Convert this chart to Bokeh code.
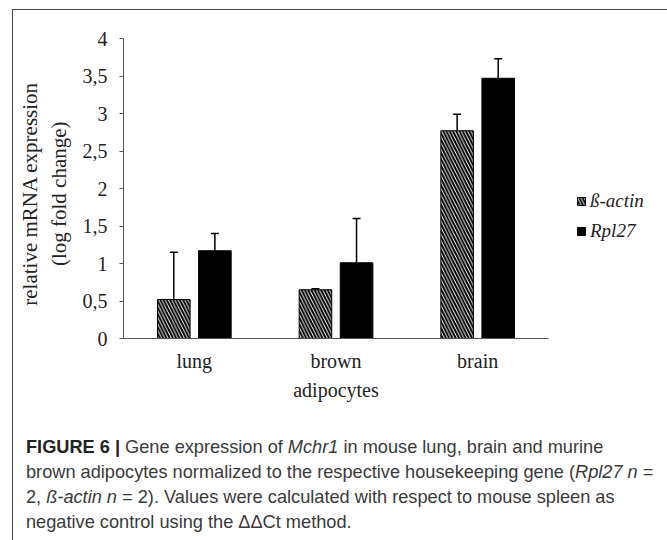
from bokeh.plotting import figure
from bokeh.models import (ColumnDataSource, FactorRange, Range1d, Whisker, TeeHead,
                          Legend, LegendItem, Div, FixedTicker, CategoricalAxis,
                          CustomJSTickFormatter)
from bokeh.layouts import column
from bokeh.transform import dodge
from bokeh.embed import file_html
from bokeh.resources import INLINE

# ---- data ----
categories = ["lung", "brown adipocytes", "brain"]
category_line1 = ["lung", "brown", "brain"]
category_line2 = ["", "adipocytes", ""]
beta_actin = [0.52, 0.65, 2.77]
beta_actin_upper = [1.15, 0.665, 2.99]
rpl27 = [1.17, 1.01, 3.47]
rpl27_upper = [1.40, 1.60, 3.73]
series_labels = ["ß-actin", "Rpl27"]
y_ticks = [0, 0.5, 1, 1.5, 2, 2.5, 3, 3.5, 4]
y_tick_labels = ["0", "0,5", "1", "1,5", "2", "2,5", "3", "3,5", "4"]

src = ColumnDataSource(dict(cat=categories, beta=beta_actin, beta_up=beta_actin_upper,
                            rpl=rpl27, rpl_up=rpl27_upper))

p = figure(x_range=FactorRange(*categories, range_padding=0), y_range=Range1d(0, 4),
           frame_width=425, frame_height=300,
           min_border_left=110, min_border_top=28, min_border_right=113, min_border_bottom=72,
           output_backend="svg", toolbar_location=None)

OFF = 0.145
BW = 0.23
r1 = p.vbar(x=dodge('cat', -OFF, range=p.x_range), top='beta', width=BW, source=src,
            fill_color="white", line_color="black", line_width=1,
            hatch_pattern="\\", hatch_color="black", hatch_scale=6.5, hatch_weight=2)
r2 = p.vbar(x=dodge('cat', OFF, range=p.x_range), top='rpl', width=BW, source=src,
            fill_color="black", line_color="black", line_width=1)

for key, lo, up in ((-OFF, 'beta', 'beta_up'), (OFF, 'rpl', 'rpl_up')):
    w = Whisker(base=dodge('cat', key, range=p.x_range), lower=lo, upper=up, source=src,
                line_color="black", line_width=1.5,
                upper_head=TeeHead(size=8, line_width=1.5, line_color="black"),
                lower_head=None)
    p.add_layout(w)

p.xgrid.visible = False
p.ygrid.visible = False
p.outline_line_color = None
p.background_fill_color = "white"
p.border_fill_color = "white"

ya = p.yaxis[0]
ya.ticker = FixedTicker(ticks=y_ticks)
ya.major_label_overrides = {t: l for t, l in zip(y_ticks, y_tick_labels)}
ya.minor_tick_line_color = None
ya.major_tick_in = 0
ya.major_tick_out = 4
ya.axis_line_color = "#555555"
ya.major_tick_line_color = "#555555"
ya.major_label_text_font = "Liberation Serif"
ya.major_label_text_font_size = "20px"
ya.major_label_text_color = "#222222"
ya.major_label_standoff = 12
ya.axis_label = "relative  mRNA  expression\n(log  fold  change)"
ya.axis_label_text_font = "Liberation Serif"
ya.axis_label_text_font_style = "normal"
ya.axis_label_text_font_size = "21px"
ya.axis_label_text_color = "#222222"
ya.axis_label_standoff = 9

LABEL_CODE = "const i = cats.indexOf(tick); return i >= 0 ? labels[i] : tick;"

xa = p.xaxis[0]
xa.major_tick_line_color = None
xa.major_tick_out = 0
xa.major_tick_in = 0
xa.minor_tick_line_color = None
xa.axis_line_color = "#555555"
xa.formatter = CustomJSTickFormatter(args=dict(cats=categories, labels=category_line1),
                                     code=LABEL_CODE)
xa.major_label_text_font = "Liberation Serif"
xa.major_label_text_font_size = "20px"
xa.major_label_text_color = "#222222"
xa.major_label_standoff = 11

xa2 = CategoricalAxis(axis_line_color=None, major_tick_line_color=None,
                      minor_tick_line_color=None, major_tick_out=0, major_tick_in=0,
                      formatter=CustomJSTickFormatter(args=dict(cats=categories, labels=category_line2),
                                                      code=LABEL_CODE),
                      major_label_text_font="Liberation Serif",
                      major_label_text_font_size="20px",
                      major_label_text_color="#222222",
                      major_label_standoff=4)
p.add_layout(xa2, "below")

legend = Legend(items=[LegendItem(label=series_labels[0], renderers=[r1]),
                       LegendItem(label=series_labels[1], renderers=[r2])],
                location=(28, 96), label_text_font="Liberation Serif",
                label_text_font_style="italic", label_text_font_size="19px",
                label_text_color="#222222",
                glyph_width=10, glyph_height=10, label_standoff=4, spacing=8,
                padding=0, margin=0, border_line_color=None, background_fill_alpha=0)
p.add_layout(legend, "right")

caption_html = (
    '<div style="font-family: \'Liberation Sans\', sans-serif; '
    'font-size:18.2px; line-height:25px; color:#3a3a3a; white-space:nowrap; padding:20px 0 0 8px;">'
    '<b style="color:#222">FIGURE 6 |</b> Gene expression of <i>Mchr1</i> in mouse lung, brain and murine<br>'
    'brown adipocytes normalized to the respective housekeeping gene (<i>Rpl27 n</i> =<br>'
    '2, <i>ß-actin n</i> = 2). Values were calculated with respect to mouse spleen as<br>'
    'negative control using the ΔΔCt method.</div>'
)
caption = Div(text=caption_html, width=648, height=130)

layout = column(p, caption, margin=(9, 0, 0, 12), spacing=0,
                styles={"border-left": "1px solid #444", "border-top": "1px solid #444",
                        "border-right": "1px solid #444"})

open("out.html", "w").write(file_html(layout, INLINE))
